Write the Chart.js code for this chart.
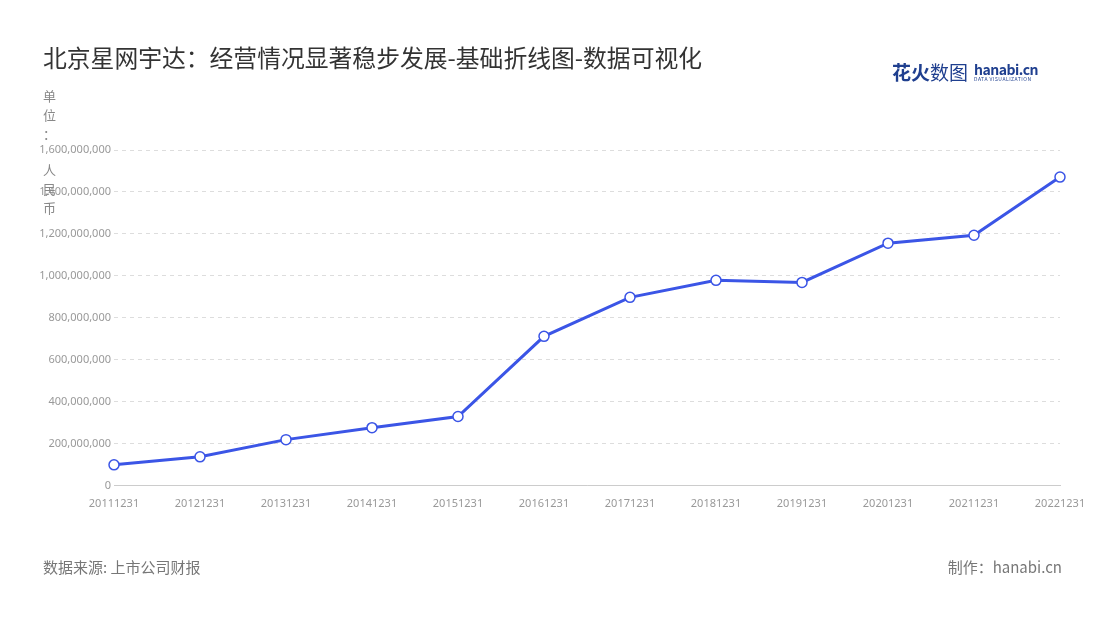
<!DOCTYPE html>
<html><head><meta charset="utf-8">
<script src="https://cdn.jsdelivr.net/npm/chart.js@4"></script>
<style>
body{margin:0;width:1100px;height:620px;position:relative;font-family:"Noto Sans CJK SC","Noto Sans",sans-serif;background:#fff;overflow:hidden}
#c{position:absolute;left:0;top:0}
.t{position:absolute;white-space:nowrap}
</style></head><body>
<canvas id="c" width="1100" height="620"></canvas>
<div class="t" style="left:43px;top:39px;font-size:23.8px;color:#333">北京星网宇达：经营情况显著稳步发展-基础折线图-数据可视化</div>
<div class="t" style="left:892px;top:58px;font-size:19px;font-weight:bold;color:#1f3f8f">花火<span style="font-weight:normal">数图</span></div>
<div class="t" style="left:974px;top:59px;font-size:14px;font-weight:bold;color:#1f3f8f;letter-spacing:-0.5px">hanabi.cn</div>
<div class="t" style="left:974px;top:75px;font-size:5px;color:#1f3f8f;letter-spacing:0.5px">DATA VISUALIZATION</div>
<div class="t" style="left:43px;top:86px;font-size:13px;color:#888;line-height:19px;width:14px;white-space:normal">单<br>位<br>：</div>
<div class="t" style="left:43px;top:160px;font-size:13px;color:#888;line-height:19px;width:14px;white-space:normal">人<br>民<br>币</div>
<div class="t" style="left:43px;top:556px;font-size:15px;color:#777">数据来源: 上市公司财报</div>
<div class="t" style="right:38px;top:556px;font-size:15px;color:#777">制作：hanabi.cn</div>
<script>
const categories=["20111231","20121231","20131231","20141231","20151231","20161231","20171231","20181231","20191231","20201231","20211231","20221231"];
const revenue=[100000000,138000000,220000000,277000000,330000000,712000000,898000000,979000000,969000000,1156000000,1194000000,1471000000];
Chart.defaults.font.family='"Noto Sans","Noto Sans CJK SC",sans-serif';
new Chart(document.getElementById('c'),{type:'line',
data:{labels:categories,datasets:[{data:revenue,borderColor:'#3b55e6',borderWidth:3,backgroundColor:'#fff',pointBorderColor:'#3b55e6',pointBackgroundColor:'#fff',pointRadius:5,pointBorderWidth:1.5,tension:0}]},
options:{responsive:false,animation:false,layout:{padding:{left:0,right:40,top:150,bottom:107}},
plugins:{legend:{display:false},tooltip:{enabled:false}},
scales:{x:{offset:false,grid:{display:false},border:{color:'#ccc'},ticks:{color:'#999',font:{size:11},maxRotation:0,autoSkip:false}},
y:{min:0,max:1600000000,afterFit:s=>{s.width=114},grid:{color:'#ddd',tickLength:0},border:{display:false,dash:[4,4]},
ticks:{stepSize:200000000,color:'#999',font:{size:11},callback:v=>v.toLocaleString('en-US')}}}}});
</script></body></html>
